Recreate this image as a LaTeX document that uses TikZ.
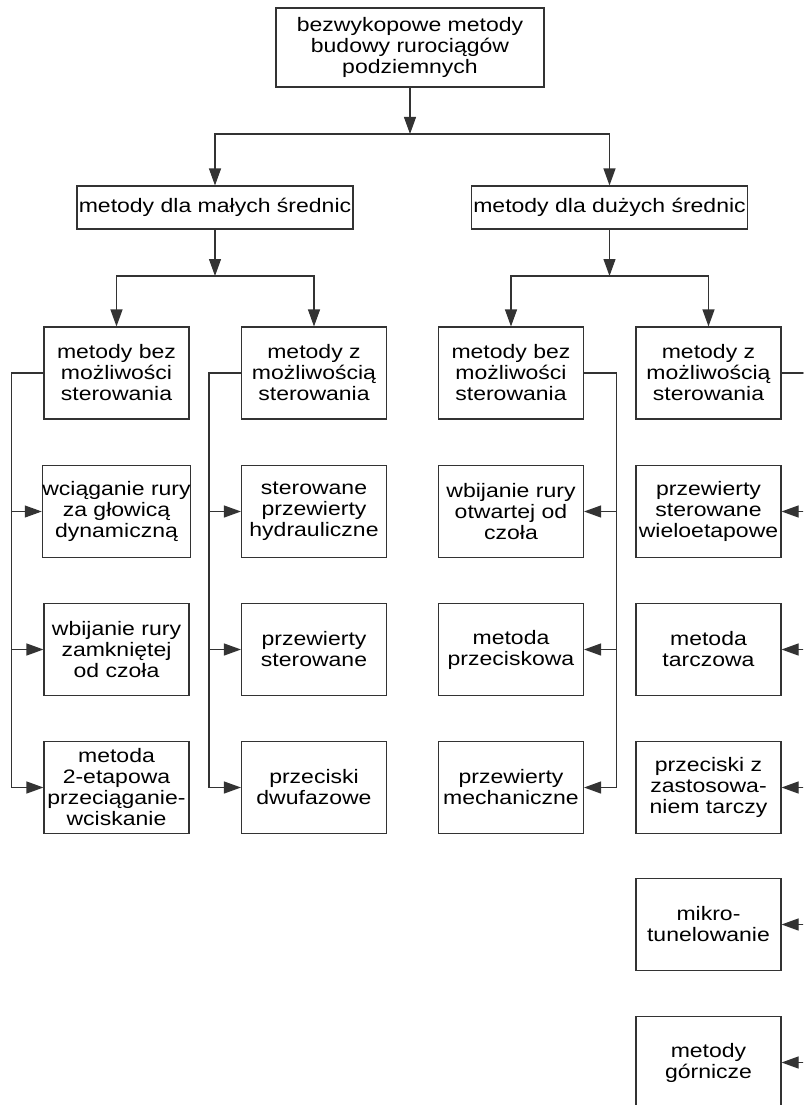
\documentclass[tikz,border=0pt]{standalone}
\usepackage{fontspec}
\setmainfont{Liberation Sans}[FakeStretch=1.18]
\usetikzlibrary{arrows.meta}

\tikzset{
    box/.style={draw=black!80, line width=1.1pt, rectangle, align=center,
        inner sep=0pt, minimum width=145pt, minimum height=92pt,
        font=\fontsize{19.5}{21}\selectfont},
    wide/.style={box, minimum width=276pt, minimum height=43pt},
    link/.style={draw=black!80, line width=1.1pt, -{Triangle[length=17pt,width=12pt]}}
}

\begin{document}
\begin{tikzpicture}[x=1pt, y=-1pt]
            \useasboundingbox (0,0) rectangle (803,1105);
            \clip (0,0) rectangle (803,1105);

            % Root
            \node[box, minimum width=268pt, minimum height=79pt] (root) at (410,47.5) {bezwykopowe metody\\budowy rurociągów\\podziemnych};

            % Diameter groups
            \node[wide] (small) at (215,207.5) {metody dla małych średnic};
            \node[wide] (large) at (609.5,207.5) {metody dla dużych średnic};

            % Steering groups
            \node[box] (sA) at (116.5,373) {metody bez\\możliwości\\sterowania};
            \node[box] (sB) at (314,373) {metody z\\możliwością\\sterowania};
            \node[box] (lA) at (511,373) {metody bez\\możliwości\\sterowania};
            \node[box] (lB) at (708.5,373) {metody z\\możliwością\\sterowania};

            % Small diameters
            \node[box] (sA1) at (116.5,511.5) {wciąganie rury\\za głowicą\\dynamiczną};
            \node[box] (sA2) at (116.5,649.5) {wbijanie rury\\zamkniętej\\od czoła};
            \node[box] (sA3) at (116.5,787.5) {metoda\\2-etapowa\\przeciąganie-\\wciskanie};
            \node[box] (sB1) at (314,511.5) {sterowane\\przewierty\\hydrauliczne};
            \node[box] (sB2) at (314,649.5) {przewierty\\sterowane};
            \node[box] (sB3) at (314,787.5) {przeciski\\dwufazowe};

            % Large diameters
            \node[box] (lA1) at (511,511.5) {wbijanie rury\\otwartej od\\czoła};
            \node[box] (lA2) at (511,649.5) {metoda\\przeciskowa};
            \node[box] (lA3) at (511,787.5) {przewierty\\mechaniczne};
            \node[box] (lB1) at (708.5,511.5) {przewierty\\sterowane\\wieloetapowe};
            \node[box] (lB2) at (708.5,649.5) {metoda\\tarczowa};
            \node[box] (lB3) at (708.5,787.5) {przeciski z\\zastosowa-\\niem tarczy};
            \node[box] (lB4) at (708.5,924.5) {mikro-\\tunelowanie};
            \node[box] (lB5) at (708.5,1062.5) {metody\\górnicze};

            % Splits
            \coordinate (rootjoin) at (410,134);
            \coordinate (smalljoin) at (215,276);
            \coordinate (largejoin) at (609.5,276);
            \draw[link] (root) -- (rootjoin);
            \draw[link] (rootjoin) -| (small);
            \draw[link] (rootjoin) -| (large);
            \draw[link] (small) -- (smalljoin);
            \draw[link] (smalljoin) -| (sA);
            \draw[link] (smalljoin) -| (sB);
            \draw[link] (large) -- (largejoin);
            \draw[link] (largejoin) -| (lA);
            \draw[link] (largejoin) -| (lB);

            % Side buses
            \draw[link] (sA.west) -- ++(-32,0) |- (sA1);
            \draw[link] (sA.west) -- ++(-32,0) |- (sA2);
            \draw[link] (sA.west) -- ++(-32,0) |- (sA3);
            \draw[link] (sB.west) -- ++(-32,0) |- (sB1);
            \draw[link] (sB.west) -- ++(-32,0) |- (sB2);
            \draw[link] (sB.west) -- ++(-32,0) |- (sB3);
            \draw[link] (lA.east) -- ++(32,0) |- (lA1);
            \draw[link] (lA.east) -- ++(32,0) |- (lA2);
            \draw[link] (lA.east) -- ++(32,0) |- (lA3);
            \draw[link] (lB.east) -- ++(32,0) |- (lB1);
            \draw[link] (lB.east) -- ++(32,0) |- (lB2);
            \draw[link] (lB.east) -- ++(32,0) |- (lB3);
            \draw[link] (lB.east) -- ++(32,0) |- (lB4);
            \draw[link] (lB.east) -- ++(32,0) |- (lB5);

\end{tikzpicture}
\end{document}
